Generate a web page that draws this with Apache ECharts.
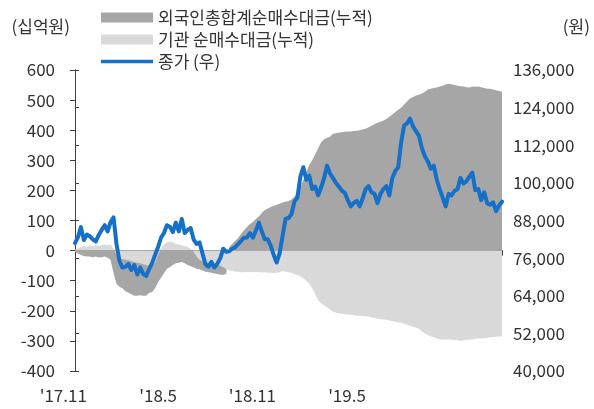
<!DOCTYPE html>
<html>
<head>
<meta charset="utf-8">
<script src="https://cdn.jsdelivr.net/npm/echarts@6/dist/echarts.min.js"></script>
<style>
  html, body { margin: 0; padding: 0; background: #fff; }
  #chart { width: 594px; height: 409px; }
</style>
</head>
<body>
<div id="chart"></div>
<script>
// Series names
const seriesNames = ['외국인총합계순매수대금(누적)', '기관 순매수대금(누적)', '종가 (우)'];

// Cumulative net buying by foreign investors (십억원), sampled about every 3.5 trading days
const foreignCum = [
  -5, -10, -15, -18, -20, -20, -22, -20, -23, -22, -20, -24, -30, -75, -110, -120,
  -125, -135, -140, -145, -150, -150, -148, -150, -150, -140, -138, -125, -105, -90, -75, -60,
  -55, -48, -42, -40, -38, -42, -48, -52, -55, -60, -62, -66, -70, -72, -74, -76,
  -78, -80, -80, -78, 12, 22, 32, 42, 55, 68, 78, 88, 95, 105, 113, 125,
  135, 140, 145, 148, 152, 156, 160, 162, 165, 170, 180, 192, 210, 235, 260, 285,
  300, 320, 340, 360, 370, 375, 378, 388, 390, 392, 393, 395, 396, 396, 397, 398,
  400, 402, 405, 410, 415, 420, 425, 428, 432, 437, 445, 452, 460, 468, 475, 485,
  495, 505, 510, 515, 518, 522, 528, 535, 538, 540, 542, 545, 548, 552, 554, 553,
  550, 548, 546, 545, 543, 542, 545, 544, 545, 543, 540, 538, 538, 535, 533, 530,
  528
];

// Cumulative net buying by institutions (십억원)
const instCum = [
  3, 8, 12, 15, 14, 16, 15, 18, 16, 18, 20, 18, 20, 5, -15, -25,
  -28, -30, -32, -35, -38, -40, -42, -45, -48, -50, -48, -40, -15, 5, 20, 28,
  30, 28, 22, 20, 18, 15, 12, 5, -5, -20, -30, -35, -38, -40, -42, -45,
  -48, -50, -55, -62, -65, -68, -70, -70, -72, -72, -70, -72, -70, -72, -70, -73,
  -72, -74, -73, -75, -74, -72, -68, -70, -72, -74, -78, -82, -85, -92, -100, -110,
  -125, -145, -165, -175, -182, -188, -195, -203, -206, -208, -210, -211, -212, -213, -215, -217,
  -216, -218, -218, -219, -222, -224, -226, -228, -229, -230, -232, -234, -236, -238, -240, -243,
  -246, -250, -253, -256, -260, -268, -275, -280, -285, -288, -292, -295, -295, -296, -295, -296,
  -297, -298, -300, -298, -297, -295, -295, -293, -292, -292, -290, -290, -288, -287, -286, -285,
  -285
];

// Closing price (원)
const closePrice = [
  80800, 82700, 85900, 81800, 83500, 83000, 82000, 81300, 83400, 85000, 86500, 84500, 87500, 89000, 80500, 75000,
  73000, 73200, 74200, 72200, 73800, 70800, 73000, 71000, 70300, 72500, 74400, 77000, 79500, 82500, 84000, 86500,
  86000, 84300, 87300, 84500, 88500, 84000, 85000, 85600, 82000, 80500, 81000, 77500, 74000, 73300, 74800, 73000,
  74200, 76000, 79000, 78000, 78200, 79000, 79500, 80500, 81500, 82500, 82600, 84000, 82500, 84800, 87300, 84500,
  82000, 82000, 80000, 77000, 74600, 77500, 83000, 88500, 88800, 90000, 94000, 95300, 102000, 105000, 101000, 102300,
  98000, 98800, 96000, 98500, 101500, 105500, 103000, 101500, 100000, 98800, 97500, 96800, 94500, 92500, 93600, 94300,
  92500, 95000, 98000, 99000, 97000, 96500, 93500, 96500, 98000, 99000, 96000, 101500, 103800, 105000, 113000, 118300,
  119000, 120500, 118000, 116500, 115000, 111000, 108500, 106800, 104500, 105500, 101000, 98000, 95300, 92500, 96500, 96000,
  97500, 98000, 101600, 99800, 100500, 102000, 103300, 97700, 98000, 94500, 97000, 93500, 93000, 93800, 91000, 92800,
  94000
];

// Period labels shown under the plot
const periodLabels = ["'17.11", "'18.5", "'18.11", "'19.5"];
// Where each period label sits along the sample index (right edge of the text)
const periodLabelAt = [4.0, 34.4, 67.8, 98.1];

// Right axis ticks (원)
const priceTicks = [40000, 52000, 64000, 76000, 88000, 100000, 112000, 124000, 136000];

const FONT = '"Noto Sans CJK KR", "Noto Sans", sans-serif';
const TEXT = '#333333';
const AXIS = '#404040';

const withIndex = arr => arr.map((v, i) => [i, v]);
const lastIndex = closePrice.length - 1;

const chart = echarts.init(document.getElementById('chart'), null, { renderer: 'canvas' });

chart.setOption({
  animation: false,
  backgroundColor: '#ffffff',
  textStyle: { fontFamily: FONT, color: TEXT },
  title: {
    text: '(원)',
    right: 4,
    top: 18,
    padding: 0,
    textStyle: { fontFamily: FONT, fontSize: 17, fontWeight: 'normal', color: TEXT }
  },
  grid: { left: 75, right: 92, top: 70, bottom: 38 },
  legend: {
    orient: 'vertical',
    left: 96,
    top: 4,
    itemWidth: 52,
    itemHeight: 10,
    itemGap: 5,
    textStyle: { fontFamily: FONT, fontSize: 17, color: TEXT },
    data: [
      { name: seriesNames[0], icon: 'rect' },
      { name: seriesNames[1], icon: 'rect' },
      { name: seriesNames[2], icon: 'path://M0,0H52V3.5H0Z' }
    ]
  },
  xAxis: [
    {
      type: 'value',
      min: 0,
      max: lastIndex,
      interval: 36,
      axisLine: { show: true, onZero: true, onZeroAxisIndex: 0, lineStyle: { color: AXIS, width: 1 } },
      axisTick: { show: true, inside: false, length: 5, lineStyle: { color: AXIS } },
      axisLabel: { show: false },
      splitLine: { show: false }
    },
    {
      type: 'value',
      position: 'bottom',
      min: 0,
      max: lastIndex,
      axisLine: { show: false, onZero: false },
      axisTick: { show: false },
      splitLine: { show: false },
      axisLabel: {
        show: true,
        customValues: periodLabelAt,
        align: 'right',
        margin: 16,
        fontFamily: FONT,
        fontSize: 17,
        color: TEXT,
        formatter: v => {
          const k = periodLabelAt.findIndex(p => Math.abs(p - v) < 1e-6);
          return k >= 0 ? periodLabels[k] : '';
        }
      }
    }
  ],
  yAxis: [
    {
      type: 'value',
      min: -400,
      max: 600,
      interval: 100,
      name: '(십억원)',
      nameLocation: 'end',
      nameGap: 35,
      nameTextStyle: { fontFamily: FONT, fontSize: 17, color: TEXT, align: 'right', padding: [0, 5, 0, 0] },
      axisLine: { show: true, lineStyle: { color: AXIS, width: 1 } },
      axisTick: { show: true, inside: false, length: 5, lineStyle: { color: AXIS } },
      axisLabel: { margin: 20, fontFamily: FONT, fontSize: 17, color: TEXT },
      splitLine: { show: false }
    },
    {
      type: 'value',
      position: 'right',
      min: 40000,
      max: 136000,
      axisLine: { show: true, lineStyle: { color: AXIS, width: 1 } },
      axisTick: { show: true, inside: false, length: 4, customValues: priceTicks, lineStyle: { color: AXIS } },
      axisLabel: {
        margin: 11,
        customValues: priceTicks,
        fontFamily: FONT,
        fontSize: 17,
        color: TEXT,
        formatter: v => v.toLocaleString('en-US')
      },
      splitLine: { show: false }
    }
  ],
  series: [
    {
      name: seriesNames[0],
      type: 'line',
      xAxisIndex: 0,
      yAxisIndex: 0,
      data: withIndex(foreignCum),
      symbol: 'none',
      color: '#a6a6a6',
      lineStyle: { width: 0 },
      areaStyle: { color: '#a6a6a6', opacity: 1, origin: 0 },
      z: 1
    },
    {
      name: seriesNames[1],
      type: 'line',
      xAxisIndex: 0,
      yAxisIndex: 0,
      data: withIndex(instCum),
      symbol: 'none',
      color: '#d9d9d9',
      lineStyle: { width: 0 },
      areaStyle: { color: '#d9d9d9', opacity: 1, origin: 0 },
      z: 2
    },
    {
      name: seriesNames[2],
      type: 'line',
      xAxisIndex: 0,
      yAxisIndex: 1,
      data: withIndex(closePrice),
      symbol: 'none',
      color: '#1570c9',
      lineStyle: { width: 4, color: '#1570c9', join: 'round', cap: 'round' },
      z: 3
    }
  ]
});
</script>
</body>
</html>
